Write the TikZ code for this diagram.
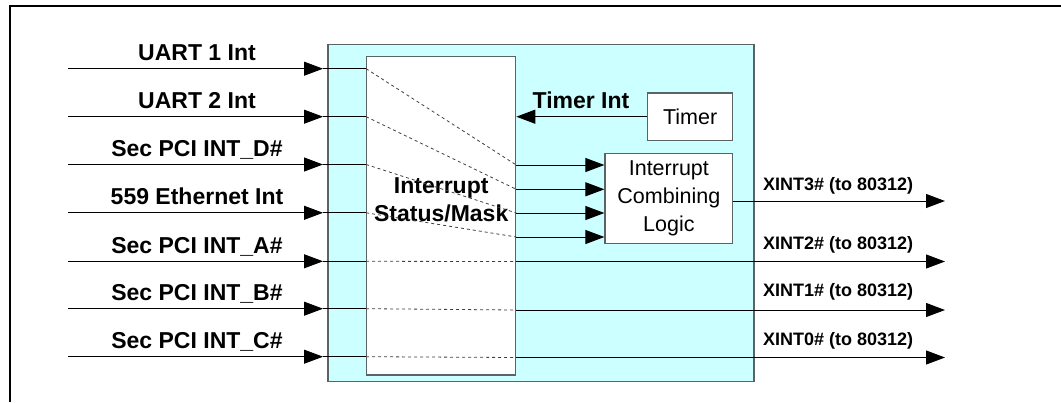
\documentclass[tikz,border=0pt]{standalone}
\usepackage{fontspec}
\setmainfont{Liberation Sans}
\usetikzlibrary{arrows.meta}
\definecolor{panel}{RGB}{204,255,255}
\definecolor{edge}{RGB}{90,100,100}
\begin{document}
\begin{tikzpicture}[x=1pt,y=-1pt,
  panelbox/.style={draw=edge,line width=1.2pt,fill=panel,inner sep=0pt},
  blk/.style={draw=edge,line width=1.2pt,fill=white,inner sep=0pt},
  sig/.style={line width=1pt,-{Triangle[length=19pt,width=14pt]}},
  wire/.style={line width=1pt},
  maskline/.style={line width=0.8pt,draw=black!75,dash pattern=on 3pt off 3pt},
  lbl/.style={font=\bfseries\fontsize{23}{27}\selectfont,inner sep=0pt,anchor=base},
  outlbl/.style={font=\bfseries\fontsize{18}{22}\selectfont,inner sep=0pt,anchor=base west},
  txt/.style={font=\fontsize{21.5}{28}\selectfont}]
\useasboundingbox (0,0) rectangle (1061,402);

% page frame (top and left edges)
\draw[line width=2.2pt] (10,402) -- (10,6.3) -- (1061,6.3);

% blocks
\node[panelbox,minimum width=426pt,minimum height=337pt] (panel) at (541,213.1) {};
\node[blk,minimum width=149pt,minimum height=318.3pt] (mask) at (441.2,215.85) {};
\node[blk,minimum width=85.2pt,minimum height=47.5pt,txt] (timer) at (690.1,116.7) {Timer};
\node[blk,minimum width=127.7pt,minimum height=90pt,txt,align=center] (comb) at (668.85,198.3)
  {Interrupt\\Combining\\Logic};

\node[lbl] (masklabA) at (441.2,193.3) {Interrupt};
\node[lbl] (masklabB) at (441.2,221.7) {Status/Mask};

% interrupt inputs
\foreach \i/\yy/\t in {1/68.7/{UART 1 Int},2/116.7/{UART 2 Int},3/164.5/{Sec PCI INT\_D\#},
    4/212.8/{559 Ethernet Int},5/261.3/{Sec PCI INT\_A\#},6/308.7/{Sec PCI INT\_B\#},
    7/356.7/{Sec PCI INT\_C\#}}{
  \coordinate (in\i) at (68,\yy);
  \coordinate (tip\i) at (323,\yy);
  \node[lbl] (lab\i) at (197,\yy-8) {\t};
  \draw[sig] (in\i) -- (tip\i);
  \draw[wire] (tip\i) -- (mask.west |- tip\i);
}

% masked sources routed to the combining logic
\foreach \i/\yy in {1/165,2/189.3,3/213,4/237}{
  \coordinate (c\i) at (mask.east |- 0,\yy);
  \draw[maskline] (mask.west |- in\i) -- (c\i);
  \draw[sig] (c\i) -- (comb.west |- c\i);
}

% masked sources passed straight through
\foreach \i/\yo/\yl/\t in {5/261.5/249/{XINT2\# (to 80312)},6/310/296.7/{XINT1\# (to 80312)},
    7/357.5/345/{XINT0\# (to 80312)}}{
  \coordinate (m\i) at (mask.east |- 0,\yo);
  \coordinate (out\i) at (945,\yo);
  \draw[maskline] (mask.west |- in\i) -- (m\i);
  \draw[sig] (m\i) -- (out\i);
  \node[outlbl] (olab\i) at (763,\yl) {\t};
}

% combined output
\coordinate (out4) at (945,201);
\draw[sig] (comb.east |- out4) -- (out4);
\node[outlbl] (olab4) at (763,190.7) {XINT3\# (to 80312)};

% timer interrupt
\draw[sig] (timer.west) -- (mask.east |- timer.west);
\node[lbl] (timerlab) at (581,108.3) {Timer Int};
\end{tikzpicture}
\end{document}
